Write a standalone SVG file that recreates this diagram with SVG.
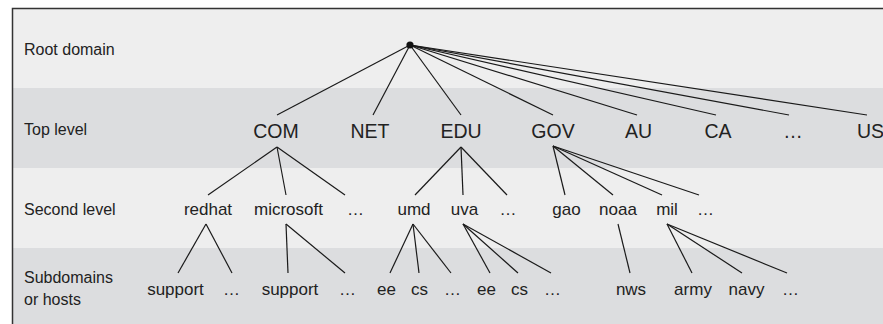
<svg xmlns="http://www.w3.org/2000/svg" width="883" height="324" viewBox="0 0 883 324">
<style>
.band-l{fill:#eeeeee}
.band-d{fill:#dcdddf}
text{font-family:"Liberation Sans",Arial,sans-serif;fill:#222}
.row{font-size:16px}
.tl{font-size:19.5px;text-anchor:middle}
.n{font-size:17px;text-anchor:middle}
.c line{stroke:#1a1a1a;stroke-width:1.2}
</style>
<g id="background">
<rect class="band-l" x="12" y="8" width="871" height="80"/>
<rect class="band-d" x="12" y="88" width="871" height="80"/>
<rect class="band-l" x="12" y="168" width="871" height="80"/>
<rect class="band-d" x="12" y="248" width="871" height="76"/>
<path d="M883 8.5H12.5V324" fill="none" stroke="#333" stroke-width="1.5"/>
</g>
<g id="row-labels">
<text class="row" x="24" y="55">Root domain</text>
<text class="row" x="24" y="135">Top level</text>
<text class="row" x="24" y="215">Second level</text>
<text class="row" x="24" y="283">Subdomains</text>
<text class="row" x="24" y="305">or hosts</text>
</g>
<g class="c" id="connectors">
<line x1="410" y1="45" x2="277" y2="115"/>
<line x1="410" y1="45" x2="373" y2="115"/>
<line x1="410" y1="45" x2="461" y2="115"/>
<line x1="410" y1="45" x2="553" y2="115"/>
<line x1="410" y1="45" x2="637" y2="115"/>
<line x1="410" y1="45" x2="716" y2="115"/>
<line x1="410" y1="45" x2="789" y2="115"/>
<line x1="410" y1="45" x2="867" y2="115"/>
<line x1="277" y1="147" x2="208" y2="195"/>
<line x1="277" y1="147" x2="286" y2="195"/>
<line x1="277" y1="147" x2="345" y2="195"/>
<line x1="461" y1="147" x2="415" y2="195"/>
<line x1="461" y1="147" x2="463" y2="195"/>
<line x1="461" y1="147" x2="507" y2="195"/>
<line x1="553" y1="146" x2="565" y2="195"/>
<line x1="553" y1="146" x2="613" y2="195"/>
<line x1="553" y1="146" x2="662" y2="195"/>
<line x1="553" y1="146" x2="699" y2="195"/>
<line x1="206" y1="224" x2="178" y2="273"/>
<line x1="206" y1="224" x2="232" y2="273"/>
<line x1="286" y1="224" x2="288" y2="273"/>
<line x1="286" y1="224" x2="345" y2="273"/>
<line x1="413" y1="224" x2="390" y2="273"/>
<line x1="413" y1="224" x2="419" y2="273"/>
<line x1="413" y1="224" x2="451" y2="273"/>
<line x1="463" y1="224" x2="490" y2="273"/>
<line x1="463" y1="224" x2="518" y2="273"/>
<line x1="463" y1="224" x2="551" y2="273"/>
<line x1="618" y1="224" x2="630" y2="273"/>
<line x1="667" y1="224" x2="692" y2="273"/>
<line x1="667" y1="224" x2="742" y2="273"/>
<line x1="667" y1="224" x2="787" y2="273"/>
</g>
<g id="root"><circle cx="410" cy="45" r="3.6" fill="#111"/></g>
<g id="top-level">
<text class="tl" x="276" y="138">COM</text>
<text class="tl" x="370" y="138">NET</text>
<text class="tl" x="461" y="138">EDU</text>
<text class="tl" x="553" y="138">GOV</text>
<text class="tl" x="638.5" y="138">AU</text>
<text class="tl" x="718" y="138">CA</text>
<text class="tl" x="793" y="138">…</text>
<text class="tl" x="857" y="138" style="text-anchor:start">US</text>
</g>
<g id="second-level">
<text class="n" x="208" y="215">redhat</text>
<text class="n" x="288.5" y="215">microsoft</text>
<text class="n" x="355.5" y="215">…</text>
<text class="n" x="414" y="215">umd</text>
<text class="n" x="464.5" y="215">uva</text>
<text class="n" x="508" y="215">…</text>
<text class="n" x="566.5" y="215">gao</text>
<text class="n" x="618" y="215">noaa</text>
<text class="n" x="667" y="215">mil</text>
<text class="n" x="705.5" y="215">…</text>
</g>
<g id="subdomains">
<text class="n" x="175.5" y="295">support</text>
<text class="n" x="231.5" y="295">…</text>
<text class="n" x="290" y="295">support</text>
<text class="n" x="347.5" y="295">…</text>
<text class="n" x="386.5" y="295">ee</text>
<text class="n" x="419.5" y="295">cs</text>
<text class="n" x="452.5" y="295">…</text>
<text class="n" x="486.5" y="295">ee</text>
<text class="n" x="519.5" y="295">cs</text>
<text class="n" x="552.5" y="295">…</text>
<text class="n" x="631" y="295">nws</text>
<text class="n" x="693" y="295">army</text>
<text class="n" x="746.5" y="295">navy</text>
<text class="n" x="790.5" y="295">…</text>
</g>
</svg>
